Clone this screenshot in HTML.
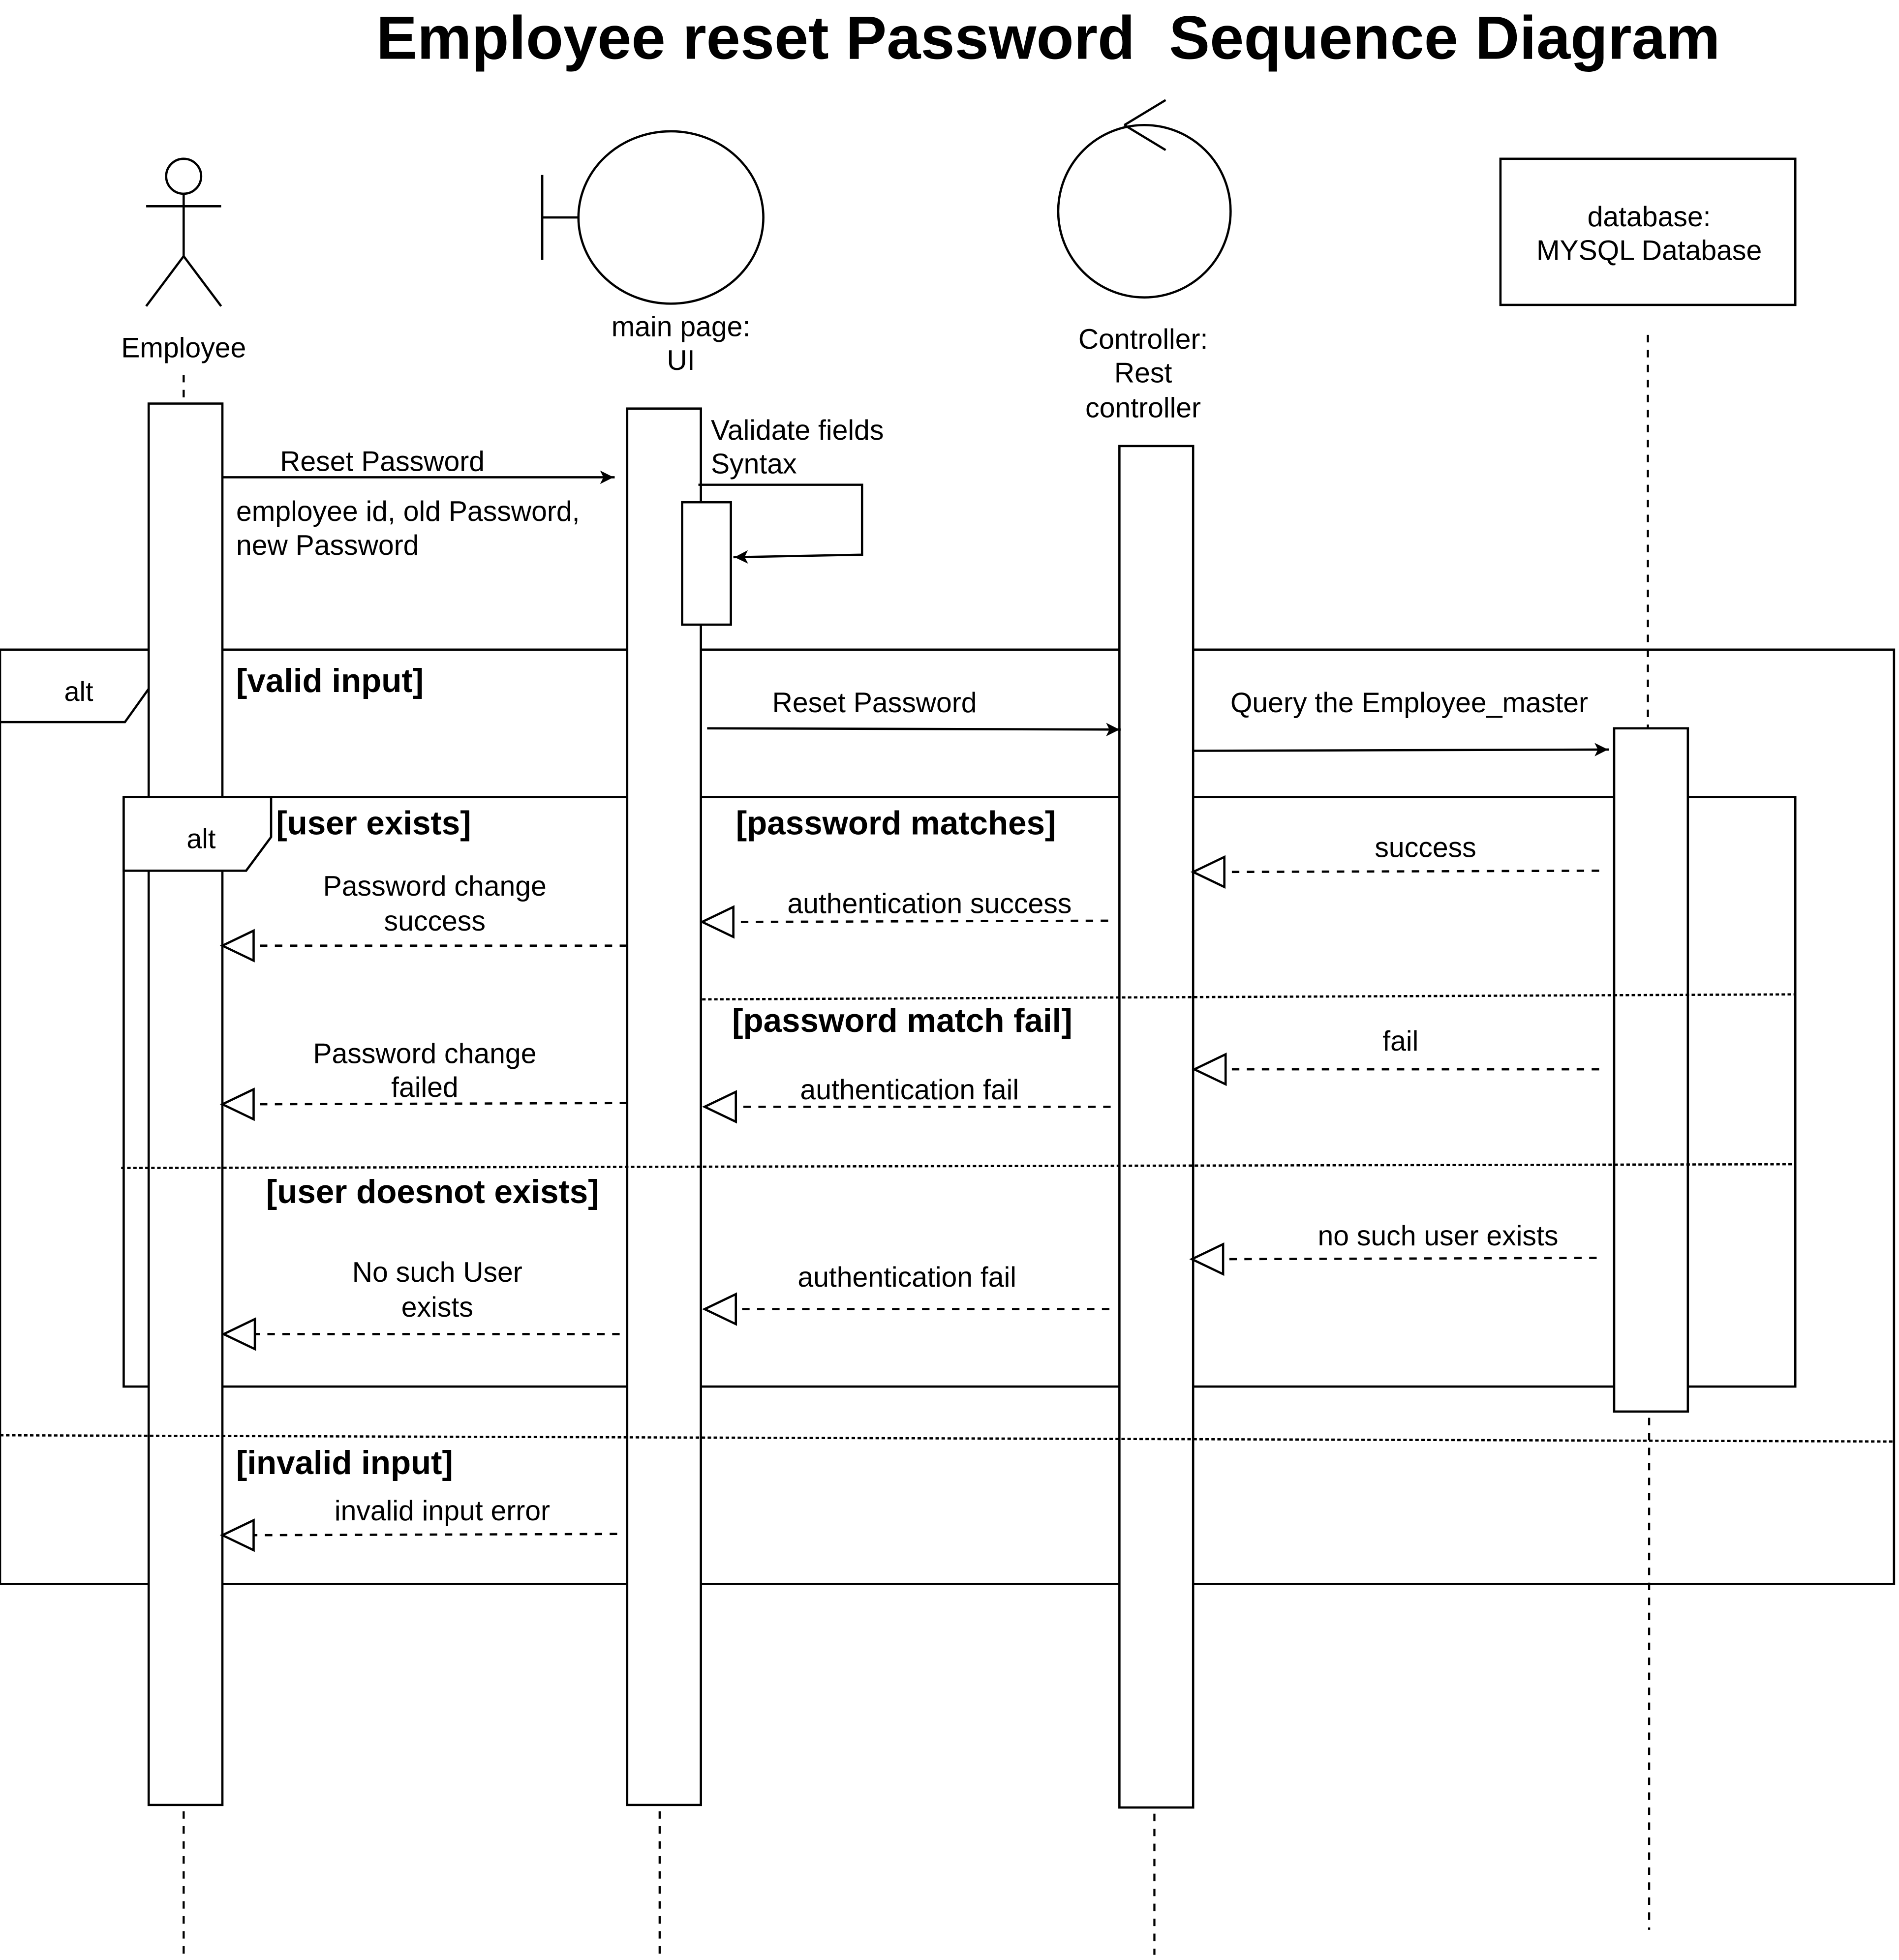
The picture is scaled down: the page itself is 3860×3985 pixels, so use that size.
<!DOCTYPE html>
<html><head><meta charset="utf-8"><style>
html,body{margin:0;padding:0;background:#fff;}
svg{display:block;}
text{font-family:"Liberation Sans",sans-serif;fill:#000;}
</style></head><body>
<svg width="3860" height="3985" viewBox="0 0 1520 1569" xmlns="http://www.w3.org/2000/svg">
<defs>
<marker id="f" viewBox="0 0 10 10" refX="10" refY="5" markerWidth="9" markerHeight="9" markerUnits="userSpaceOnUse" orient="auto" style="overflow:visible">
<path d="M-2,-1 L10,5 L-2,11 L1,5 z" fill="#000" transform="translate(-1,0)"/>
</marker>
</defs>
<rect width="1520" height="1569" fill="#fff"/>
<text x="839" y="47" font-size="49" font-weight="bold" text-anchor="middle" xml:space="preserve">Employee reset Password  Sequence Diagram</text>

<g stroke="#000" stroke-width="1.8" fill="none">
<circle cx="147" cy="141" r="14"/>
<line x1="147" y1="155" x2="147" y2="205"/>
<line x1="117" y1="165" x2="177" y2="165"/>
<line x1="147" y1="205" x2="117" y2="245"/>
<line x1="147" y1="205" x2="177" y2="245"/>
<ellipse cx="537" cy="174" rx="74" ry="69"/>
<line x1="434" y1="140" x2="434" y2="208"/>
<line x1="434" y1="174" x2="463" y2="174"/>
<circle cx="916" cy="169" r="69"/>
<line x1="900" y1="100" x2="933" y2="80"/>
<line x1="900" y1="100" x2="933" y2="120"/>
<rect x="1201" y="127" width="236" height="117"/>
</g>
<g font-size="22.5" text-anchor="middle">
<text x="147" y="286">Employee</text>
<text x="545" y="269">main page:</text>
<text x="545" y="296">UI</text>
<text x="915" y="279">Controller:</text>
<text x="915" y="306">Rest</text>
<text x="915" y="334">controller</text>
<text x="1320" y="181">database:</text>
<text x="1320" y="208">MYSQL Database</text>
</g>

<g stroke="#000" stroke-width="1.7" stroke-dasharray="6,6" fill="none">
<line x1="147" y1="300" x2="147" y2="323"/>
<line x1="147" y1="1450" x2="147" y2="1565"/>
<line x1="528" y1="1450" x2="528" y2="1565"/>
<line x1="924" y1="1452" x2="924" y2="1565"/>
<line x1="1319" y1="268" x2="1319" y2="583"/>
<line x1="1320" y1="1135" x2="1320" y2="1545"/>
</g>

<g stroke="#000" stroke-width="1.8" fill="none">
<rect x="0" y="520" width="1516" height="748"/>
<path d="M0,578 L100,578 L120,550 L120,520"/>
<rect x="99" y="638" width="1338" height="472"/>
</g>

<g stroke="#000" stroke-width="1.8" fill="#fff">
<rect x="119" y="323" width="59" height="1122"/>
<rect x="502" y="327" width="59" height="1118"/>
<rect x="896" y="357" width="59" height="1090"/>
<rect x="1292" y="583" width="59" height="547"/>
<rect x="546" y="402" width="39" height="98"/>
<path d="M99,638 L217,638 L217,670 L197,697 L99,697 Z"/>
</g>
<g stroke="#000" stroke-width="1.8" stroke-dasharray="2.8,2" fill="none">
<line x1="562" y1="800" x2="1437" y2="796"/>
<line x1="97" y1="935" x2="1437" y2="932"/>
<line x1="0" y1="1149" x2="1516" y2="1154"/>
</g>
<text x="63" y="561" font-size="22" text-anchor="middle">alt</text>
<text x="161" y="679" font-size="22" text-anchor="middle">alt</text>

<g font-size="26.5" font-weight="bold" xml:space="preserve">
<text x="189" y="554">[valid input]</text>
<text x="221" y="668">[user exists]</text>
<text x="589" y="668">[password matches]</text>
<text x="586" y="826">[password  match fail]</text>
<text x="213" y="963">[user doesnot exists]</text>
<text x="189" y="1180">[invalid input]</text>
</g>

<g stroke="#000" stroke-width="1.8" fill="none" marker-end="url(#f)">
<line x1="178" y1="382" x2="492" y2="382"/>
<polyline points="559,388 690,388 690,444 587,446"/>
<line x1="566" y1="583" x2="897" y2="584"/>
<line x1="955" y1="601" x2="1288" y2="600"/>
</g>

<g stroke="#000" stroke-width="1.8" fill="none">
<g stroke-dasharray="6,6">
<line x1="1280" y1="697" x2="980" y2="698"/>
<line x1="887" y1="737" x2="587" y2="738"/>
<line x1="502" y1="757" x2="203" y2="757"/>
<line x1="1280" y1="856" x2="981" y2="856"/>
<line x1="889" y1="886" x2="589" y2="886"/>
<line x1="502" y1="883" x2="203" y2="884"/>
<line x1="1278" y1="1007" x2="979" y2="1008"/>
<line x1="888" y1="1048" x2="589" y2="1048"/>
<line x1="496" y1="1068" x2="204" y2="1068"/>
<line x1="494" y1="1228" x2="203" y2="1229"/>
</g>
<path d="M980,686 L955,698 L980,710 Z"/>
<path d="M587,726 L562,738 L587,750 Z"/>
<path d="M203,745 L178,757 L203,769 Z"/>
<path d="M981,844 L956,856 L981,868 Z"/>
<path d="M589,874 L564,886 L589,898 Z"/>
<path d="M203,872 L178,884 L203,896 Z"/>
<path d="M979,996 L954,1008 L979,1020 Z"/>
<path d="M589,1036 L564,1048 L589,1060 Z"/>
<path d="M204,1056 L179,1068 L204,1080 Z"/>
<path d="M203,1217 L178,1229 L203,1241 Z"/>
</g>

<g font-size="22.5">
<text x="306" y="377" text-anchor="middle">Reset Password</text>
<text x="189" y="417">employee id, old Password,</text>
<text x="189" y="444">new Password</text>
<text x="569" y="352">Validate fields</text>
<text x="569" y="379">Syntax</text>
<text x="700" y="570" text-anchor="middle">Reset Password</text>
<text x="1128" y="570" text-anchor="middle">Query the Employee_master</text>
<text x="1141" y="686" text-anchor="middle">success</text>
<text x="744" y="731" text-anchor="middle">authentication success</text>
<text x="348" y="717" text-anchor="middle">Password change</text>
<text x="348" y="745" text-anchor="middle">success</text>
<text x="1121" y="841" text-anchor="middle">fail</text>
<text x="728" y="880" text-anchor="middle">authentication fail</text>
<text x="340" y="851" text-anchor="middle">Password change</text>
<text x="340" y="878" text-anchor="middle">failed</text>
<text x="1151" y="997" text-anchor="middle">no such user exists</text>
<text x="726" y="1030" text-anchor="middle">authentication fail</text>
<text x="350" y="1026" text-anchor="middle">No such User</text>
<text x="350" y="1054" text-anchor="middle">exists</text>
<text x="354" y="1217" text-anchor="middle">invalid input error</text>
</g>
</svg>
</body></html>
